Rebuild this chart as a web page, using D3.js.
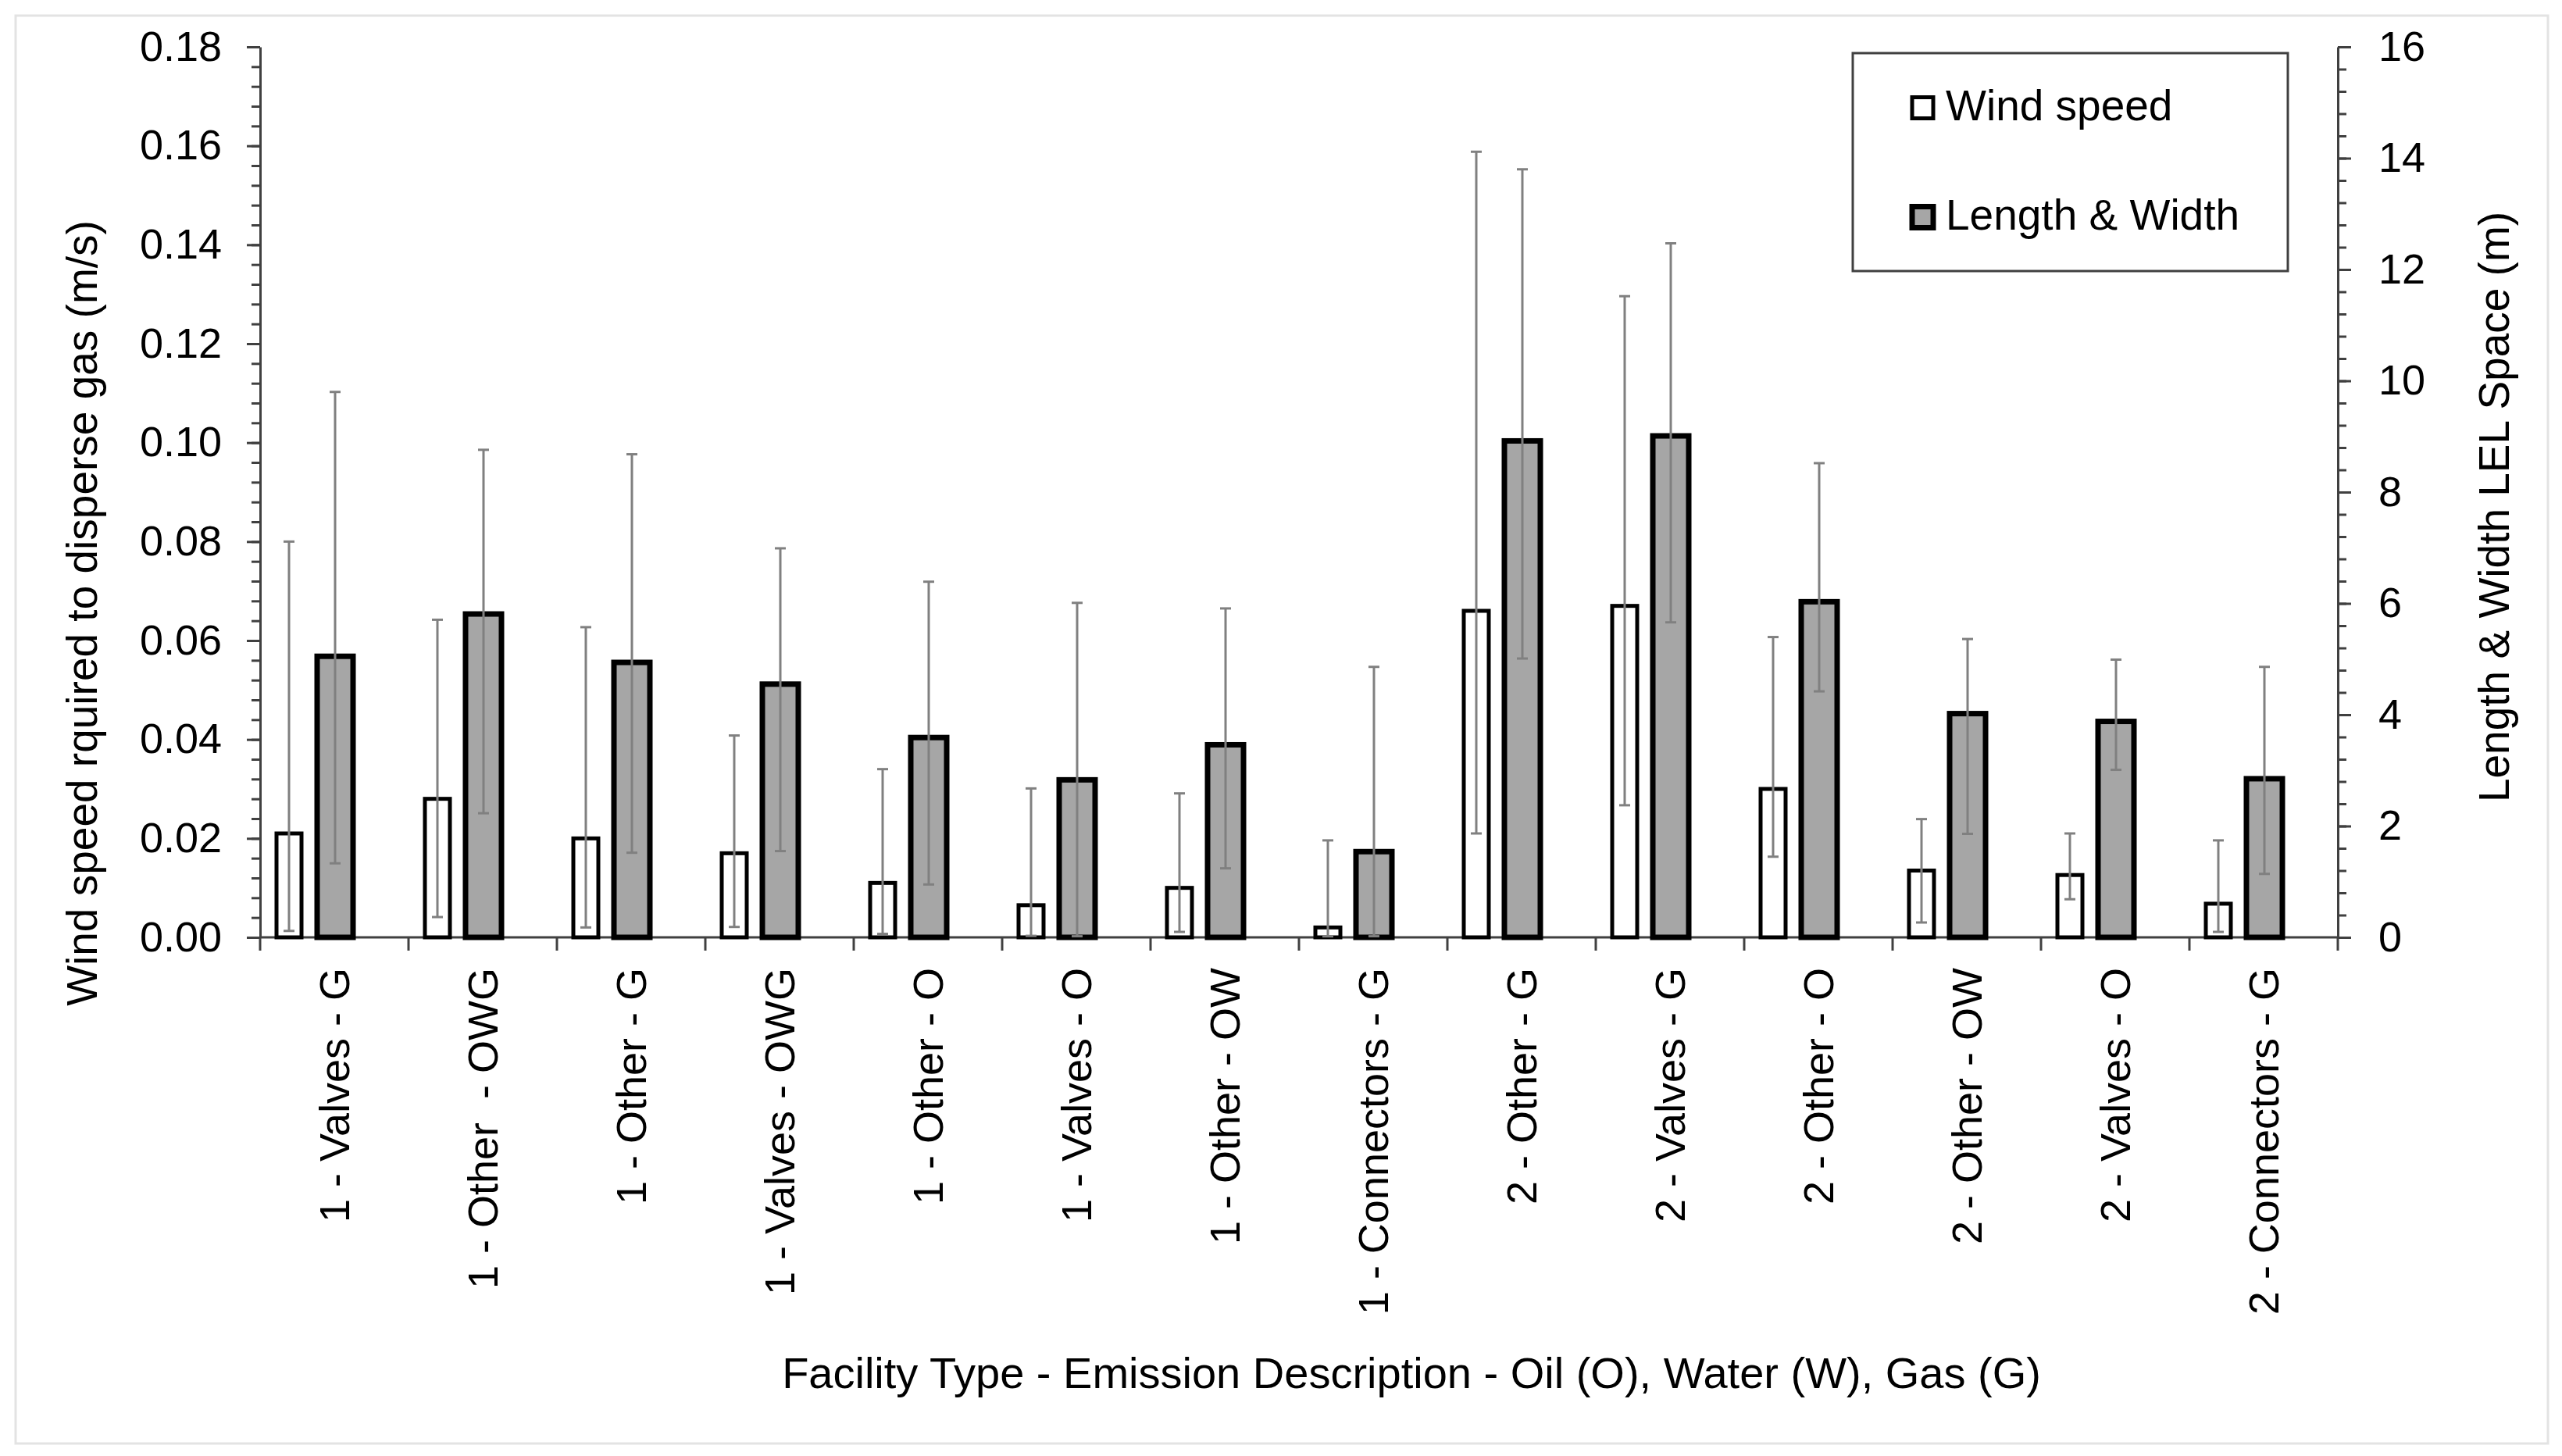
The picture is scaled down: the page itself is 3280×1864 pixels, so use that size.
<!DOCTYPE html>
<html>
<head>
<meta charset="utf-8">
<script src="https://cdnjs.cloudflare.com/ajax/libs/d3/7.8.5/d3.min.js"></script>
<style>
  body { margin: 0; background: #fff; }
  svg text { font-family: "Liberation Sans", Arial, sans-serif; fill: #000; }
</style>
</head>
<body>
<div id="chart"></div>
<script>
// categories (facility type - emission description - phase)
var categories = ["1 - Valves - G", "1 - Other  - OWG", "1 - Other - G", "1 - Valves - OWG",
    "1 - Other - O", "1 - Valves - O", "1 - Other - OW", "1 - Connectors - G",
    "2 - Other - G", "2 - Valves - G", "2 - Other - O", "2 - Other - OW",
    "2 - Valves - O", "2 - Connectors - G"];

// wind speed required to disperse gas (m/s), left axis
var windSpeed = [0.021, 0.028, 0.020, 0.017, 0.011, 0.0065, 0.010, 0.002, 0.066, 0.067, 0.030, 0.0135, 0.0126, 0.0068];
var windLow   = [0.0013, 0.0041, 0.0020, 0.0021, 0.0007, 0.0003, 0.0011, 0.0002, 0.021, 0.0267, 0.0163, 0.0030, 0.0077, 0.0011];
var windHigh  = [0.080, 0.0642, 0.0627, 0.0408, 0.034, 0.0301, 0.0291, 0.0196, 0.1588, 0.1296, 0.0607, 0.0239, 0.0210, 0.0196];

// length & width LEL space (m), right axis
var lengthWidth = [5.05, 5.81, 4.94, 4.55, 3.59, 2.83, 3.46, 1.54, 8.92, 9.01, 6.03, 4.02, 3.88, 2.85];
var lwLow       = [1.33, 2.23, 1.52, 1.55, 0.95, 0.02, 1.24, 0.02, 5.01, 5.66, 4.42, 1.86, 3.01, 1.14];
var lwHigh      = [9.80, 8.76, 8.68, 6.99, 6.39, 6.01, 5.91, 4.86, 13.80, 12.47, 8.52, 5.36, 4.99, 4.86];

var leftTicks = [0, 0.02, 0.04, 0.06, 0.08, 0.10, 0.12, 0.14, 0.16, 0.18];
var rightTicks = [0, 2, 4, 6, 8, 10, 12, 14, 16];
var seriesNames = ["Wind speed", "Length & Width"];

var W = 3280, H = 1864;
var plot = {left: 333, right: 2993, top: 60, bottom: 1200};
var fontSize = 54;

var svg = d3.select("#chart").append("svg")
    .attr("width", W)
    .attr("height", H);

// light frame round the whole chart
svg.append("rect")
    .attr("x", 20).attr("y", 20)
    .attr("width", 3242).attr("height", 1828)
    .attr("fill", "#fff")
    .attr("stroke", "#e3e3e3")
    .attr("stroke-width", 3);

var x = d3.scaleBand().domain(categories).range([plot.left, plot.right]).padding(0);
var yL = d3.scaleLinear().domain([0, 0.18]).range([plot.bottom, plot.top]);
var yR = d3.scaleLinear().domain([0, 16]).range([plot.bottom, plot.top]);

var axisColor = "#404040";

// minor ticks
var leftMinor = d3.range(0, 0.1801, 0.004);
var rightMinor = d3.range(0, 16.01, 0.4);

var gL = svg.append("g").attr("transform", "translate(" + plot.left + ",0)");
gL.call(d3.axisLeft(yL).tickValues(leftMinor).tickSize(11).tickFormat(""));
gL.call(function(g) { g.selectAll("line").attr("stroke", axisColor).attr("stroke-width", 3); g.select(".domain").remove(); });
var gL2 = svg.append("g").attr("transform", "translate(" + plot.left + ",0)");
gL2.call(d3.axisLeft(yL).tickValues(leftTicks).tickSize(17).tickSizeOuter(0).tickPadding(32).tickFormat(d3.format(".2f")));
gL2.select(".domain").attr("stroke", axisColor).attr("stroke-width", 3);
gL2.selectAll("line").attr("stroke", axisColor).attr("stroke-width", 3);
gL2.selectAll("text").style("font-size", fontSize + "px");

var gR = svg.append("g").attr("transform", "translate(" + plot.right + ",0)");
gR.call(d3.axisRight(yR).tickValues(rightMinor).tickSize(11).tickFormat(""));
gR.call(function(g) { g.selectAll("line").attr("stroke", axisColor).attr("stroke-width", 3); g.select(".domain").remove(); });
var gR2 = svg.append("g").attr("transform", "translate(" + plot.right + ",0)");
gR2.call(d3.axisRight(yR).tickValues(rightTicks).tickSize(17).tickSizeOuter(0).tickPadding(35).tickFormat(d3.format("d")));
gR2.select(".domain").attr("stroke", axisColor).attr("stroke-width", 3);
gR2.selectAll("line").attr("stroke", axisColor).attr("stroke-width", 3);
gR2.selectAll("text").style("font-size", fontSize + "px");

// x axis: ticks on category boundaries
var gX = svg.append("g").attr("transform", "translate(0," + plot.bottom + ")");
gX.append("line")
    .attr("x1", plot.left).attr("x2", plot.right)
    .attr("stroke", axisColor).attr("stroke-width", 3);
var bounds = categories.map(function(c) { return x(c); }).concat([plot.right]);
gX.selectAll(".xtick").data(bounds).enter().append("line")
    .attr("class", "xtick")
    .attr("x1", function(d) { return d; }).attr("x2", function(d) { return d; })
    .attr("y1", 0).attr("y2", 17)
    .attr("stroke", axisColor).attr("stroke-width", 3);

gX.selectAll(".xlabel").data(categories).enter().append("text")
    .attr("class", "xlabel")
    .attr("transform", function(d) {
        return "translate(" + (x(d) + x.bandwidth() / 2) + ",39) rotate(-90)";
    })
    .attr("text-anchor", "end")
    .attr("dy", "0.35em")
    .style("font-size", fontSize + "px")
    .style("white-space", "pre")
    .text(function(d) { return d; });

// bars
var cx = function(i) { return x(categories[i]) + x.bandwidth() / 2; };
var whiteOff = -58, grayOff = 1;
var whiteW = 32, grayW = 46;

var idx = d3.range(categories.length);

svg.selectAll(".wbar").data(idx).enter().append("rect")
    .attr("class", "wbar")
    .attr("x", function(i) { return cx(i) + whiteOff - whiteW / 2; })
    .attr("y", function(i) { return yL(windSpeed[i]); })
    .attr("width", whiteW)
    .attr("height", function(i) { return plot.bottom - yL(windSpeed[i]); })
    .attr("fill", "#fff").attr("stroke", "#000").attr("stroke-width", 5);

svg.selectAll(".gbar").data(idx).enter().append("rect")
    .attr("class", "gbar")
    .attr("x", function(i) { return cx(i) + grayOff - grayW / 2; })
    .attr("y", function(i) { return yR(lengthWidth[i]); })
    .attr("width", grayW)
    .attr("height", function(i) { return plot.bottom - yR(lengthWidth[i]); })
    .attr("fill", "#a6a6a6").attr("stroke", "#000").attr("stroke-width", 7);

// error bars
function errorBars(cls, off, lo, hi, y) {
    var g = svg.selectAll("." + cls).data(idx).enter().append("g").attr("class", cls);
    g.append("line")
        .attr("x1", function(i) { return cx(i) + off; }).attr("x2", function(i) { return cx(i) + off; })
        .attr("y1", function(i) { return y(lo[i]); }).attr("y2", function(i) { return y(hi[i]); });
    g.append("line")
        .attr("x1", function(i) { return cx(i) + off - 7; }).attr("x2", function(i) { return cx(i) + off + 7; })
        .attr("y1", function(i) { return y(hi[i]); }).attr("y2", function(i) { return y(hi[i]); });
    g.append("line")
        .attr("x1", function(i) { return cx(i) + off - 7; }).attr("x2", function(i) { return cx(i) + off + 7; })
        .attr("y1", function(i) { return y(lo[i]); }).attr("y2", function(i) { return y(lo[i]); });
    g.selectAll("line").attr("stroke", "#808080").attr("stroke-width", 3);
}
errorBars("werr", whiteOff, windLow, windHigh, yL);
errorBars("gerr", grayOff, lwLow, lwHigh, yR);

// axis titles
svg.append("text")
    .attr("transform", "translate(124,785) rotate(-90)")
    .attr("text-anchor", "middle")
    .style("font-size", "55px")
    .text("Wind speed rquired to disperse gas (m/s)");

svg.append("text")
    .attr("transform", "translate(3212,649) rotate(-90)")
    .attr("text-anchor", "middle")
    .style("font-size", "55px")
    .text("Length & Width LEL Space (m)");

svg.append("text")
    .attr("x", 1807).attr("y", 1777)
    .attr("text-anchor", "middle")
    .style("font-size", "56px")
    .text("Facility Type - Emission Description - Oil (O), Water (W), Gas (G)");

// legend
var legend = svg.append("g");
legend.append("rect")
    .attr("x", 2372).attr("y", 68).attr("width", 557).attr("height", 279)
    .attr("fill", "#fff").attr("stroke", "#404040").attr("stroke-width", 3);
var legendFill = ["#fff", "#a6a6a6"];
var legendStroke = [5, 7];
var legendY = d3.scalePoint().domain(seriesNames).range([138, 278]);
legend.selectAll(".lsw").data(seriesNames).enter().append("rect")
    .attr("x", 2448)
    .attr("y", function(d) { return legendY(d) - 13.5; })
    .attr("width", 27).attr("height", 27)
    .attr("fill", function(d, i) { return legendFill[i]; })
    .attr("stroke", "#000").attr("stroke-width", function(d, i) { return legendStroke[i]; });
legend.selectAll(".ltx").data(seriesNames).enter().append("text")
    .attr("x", 2491)
    .attr("y", function(d) { return legendY(d) + 16; })
    .style("font-size", "55px")
    .text(function(d) { return d; });
</script>
</body>
</html>
